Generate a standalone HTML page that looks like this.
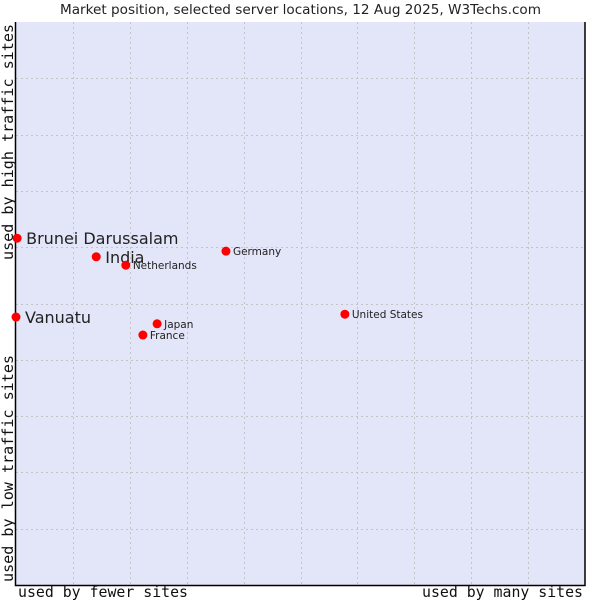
<!DOCTYPE html>
<html><head><meta charset="utf-8"><style>
body{margin:0;background:#fff}
svg text{font-family:"DejaVu Sans","Liberation Sans",sans-serif;fill:#222}
.mono{font-family:"DejaVu Sans Mono","Liberation Mono",monospace;font-size:15px;fill:#111}
</style></head><body>
<svg id="chart" width="600" height="600">
<text x="60" y="14" textLength="481" lengthAdjust="spacingAndGlyphs" font-size="13">Market position, selected server locations, 12 Aug 2025, W3Techs.com</text>
<rect x="15.5" y="22" width="569.5" height="563" fill="#e3e5f8" stroke="none"/>
<g id="grid"></g>
<path d="M15.5 22V585.5H585V22" fill="none" stroke="#000" stroke-width="1.5"/>
<g id="points"></g>
<text class="mono" x="18" y="597" textLength="170" lengthAdjust="spacingAndGlyphs">used by fewer sites</text>
<text class="mono" x="422" y="597" textLength="161" lengthAdjust="spacingAndGlyphs">used by many sites</text>
<text class="mono" transform="translate(13,260) rotate(-90)" textLength="236" lengthAdjust="spacingAndGlyphs">used by high traffic sites</text>
<text class="mono" transform="translate(13,582) rotate(-90)" textLength="227" lengthAdjust="spacingAndGlyphs">used by low traffic sites</text>
</svg>
<script>
const names=["Brunei Darussalam","India","Netherlands","Germany","United States","Vanuatu","Japan","France"];
const xValues=[0.2,14.1,19.3,36.9,57.8,0,24.8,22.3];
const yValues=[61.6,58.3,56.8,59.3,48.1,47.6,46.4,44.4];
const bigLabel=[true,true,false,false,false,true,false,false];
const L=16,R=585,T=22,B=585;
const sx=v=>L+v/100*(R-L), sy=v=>B-v/100*(B-T);
const NS="http://www.w3.org/2000/svg";
const g=document.getElementById('grid');
for(let i=1;i<10;i++){
  const lx=document.createElementNS(NS,'line');
  
  
  const x=Math.round(sx(i*10))+0.5;
  lx.setAttribute('x1',x);lx.setAttribute('x2',x);lx.setAttribute('y1',T);lx.setAttribute('y2',B);
  lx.setAttribute('stroke','#c4c4c4');lx.setAttribute('stroke-dasharray','2,3');g.appendChild(lx);
  const ly=document.createElementNS(NS,'line');
  
  
  const y=Math.round(sy(i*10))+0.5;
  ly.setAttribute('y1',y);ly.setAttribute('y2',y);ly.setAttribute('x1',L);ly.setAttribute('x2',R);
  ly.setAttribute('stroke','#c4c4c4');ly.setAttribute('stroke-dasharray','2,3');g.appendChild(ly);
}
const p=document.getElementById('points');
names.forEach((n,i)=>{
  const x=sx(xValues[i]),y=sy(yValues[i]);
  const c=document.createElementNS(NS,'circle');
  
  
  c.setAttribute('cx',x);c.setAttribute('cy',y);c.setAttribute('r',4.5);c.setAttribute('fill','#f00');p.appendChild(c);
  const t=document.createElementNS(NS,'text');
  
  
  const big=bigLabel[i];
  t.setAttribute('x',x+(big?9:7));t.setAttribute('y',y+(big?6:4));
  t.setAttribute('font-size',big?16:10.5);t.textContent=n;p.appendChild(t);
});
</script>
</body></html>
